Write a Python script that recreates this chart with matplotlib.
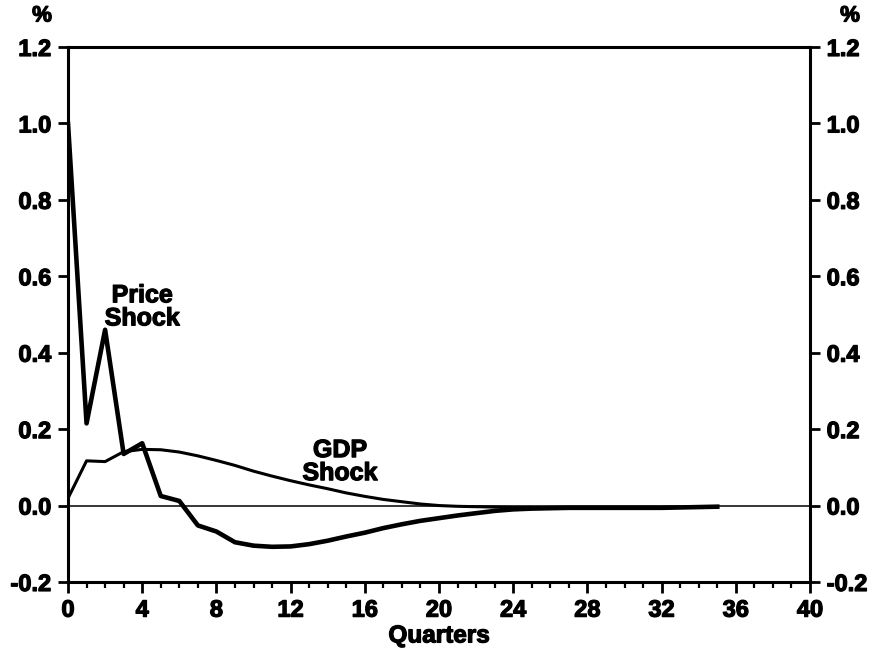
import matplotlib
matplotlib.use("Agg")
import matplotlib.pyplot as plt
import matplotlib.patheffects as pe
from matplotlib.ticker import MultipleLocator, FuncFormatter

plt.rcParams['font.family'] = ['Liberation Sans', 'DejaVu Sans']
plt.rcParams['font.weight'] = 'bold'

# Impulse responses (percent) by quarter after the shock
quarters = list(range(0, 36))
price_shock = [1.0, 0.215, 0.46, 0.135, 0.163, 0.025, 0.012, -0.052, -0.068, -0.096,
               -0.105, -0.108, -0.107, -0.101, -0.092, -0.081, -0.071, -0.059, -0.049, -0.04,
               -0.033, -0.026, -0.02, -0.014, -0.01, -0.008, -0.007, -0.006, -0.006, -0.006,
               -0.006, -0.006, -0.006, -0.005, -0.004, -0.003]
gdp_shock = [0.019, 0.117, 0.115, 0.141, 0.147, 0.146, 0.14, 0.13, 0.118, 0.105,
             0.09, 0.077, 0.065, 0.054, 0.044, 0.033, 0.024, 0.016, 0.01, 0.004,
             0.0, -0.002, -0.003, -0.004, -0.005, -0.005, -0.005, -0.005, -0.005, -0.005,
             -0.005, -0.005, -0.005, -0.005, -0.004, -0.003]

x_major_ticks = [0, 4, 8, 12, 16, 20, 24, 28, 32, 36, 40]
y_ticks = [-0.2, 0.0, 0.2, 0.4, 0.6, 0.8, 1.0, 1.2]

# heavy lettering: bold face plus a thin outline
heavy = [pe.withStroke(linewidth=0.9, foreground='black')]

fig = plt.figure(figsize=(8.82, 6.57), dpi=100)
ax = fig.add_axes([0.0771, 0.1142, 0.8413, 0.8143])

ax.axhline(0, color='black', lw=1.1, zorder=1)
ax.plot(quarters, gdp_shock, color='black', lw=2.2, zorder=2)
ax.plot(quarters, price_shock, color='black', lw=3.3, zorder=3)

ax.set_xlim(0, 40)
ax.set_ylim(-0.2, 1.2)
ax.set_xticks(x_major_ticks)
ax.xaxis.set_minor_locator(MultipleLocator(1))
ax.set_yticks(y_ticks)
ax.yaxis.set_major_formatter(FuncFormatter(lambda v, p: f"{v:.1f}"))

for s in ax.spines.values():
    s.set_linewidth(2.2)

ax.tick_params(axis='y', which='both', direction='out', left=True, right=True,
               labelleft=True, labelright=True, length=7, width=2, pad=5, labelsize=17)
ax.tick_params(axis='x', which='major', direction='out', length=8, width=2, pad=4, labelsize=17)
ax.tick_params(axis='x', which='minor', direction='out', length=4.5, width=1.6)

for lbl in (ax.xaxis.get_ticklabels() + ax.yaxis.get_ticklabels()
            + [t.label2 for t in ax.yaxis.get_major_ticks()]):
    lbl.set_fontweight('bold')
    lbl.set_path_effects(heavy)

ax.set_xlabel("Quarters", fontsize=17.5, fontweight='bold', labelpad=2,
              path_effects=heavy)

ax.text(4.0, 0.52, "Price\nShock", ha='center', va='center', fontsize=18,
        fontweight='bold', linespacing=0.95, path_effects=heavy)
ax.text(14.66, 0.115, "GDP\nShock", ha='center', va='center', fontsize=18,
        fontweight='bold', linespacing=0.95, path_effects=heavy)

fig.text(42 / 882, 1 - 16 / 657, "%", ha='center', va='center', fontsize=16,
         fontweight='bold', path_effects=heavy)
fig.text(850 / 882, 1 - 16 / 657, "%", ha='center', va='center', fontsize=16,
         fontweight='bold', path_effects=heavy)

fig.savefig("out.png", dpi=100)
